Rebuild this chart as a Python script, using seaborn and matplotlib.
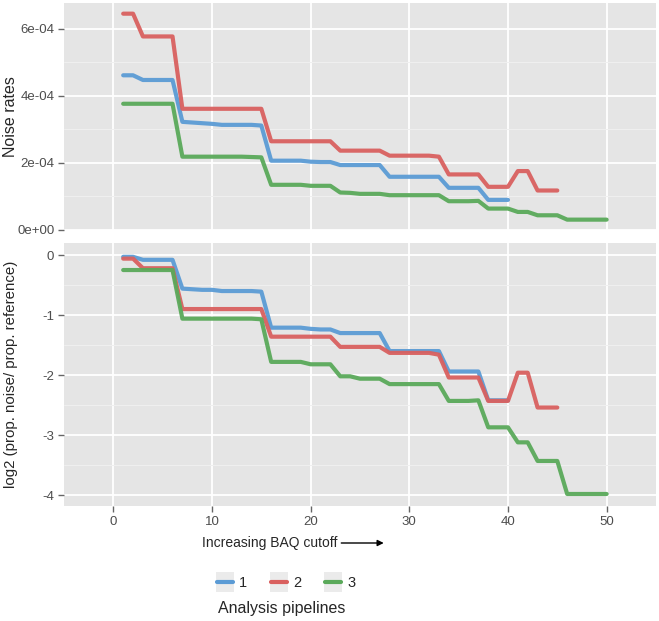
import matplotlib
matplotlib.use('Agg')
import matplotlib.pyplot as plt
import numpy as np
import pandas as pd
import seaborn as sns
from matplotlib.lines import Line2D
from matplotlib.patches import Rectangle, FancyArrowPatch
from matplotlib.ticker import MultipleLocator, FixedLocator

sns.set_style('darkgrid')
plt.rcParams['font.family'] = ['Liberation Sans', 'DejaVu Sans']
plt.rcParams['axes.unicode_minus'] = False

# 数据
cutoff_1 = list(range(1, 41))
cutoff_2 = list(range(1, 46))
cutoff_3 = list(range(1, 51))

noise_1 = [4.61, 4.61, 4.47, 4.47, 4.47, 4.47, 3.22, 3.20, 3.18, 3.16,
           3.13, 3.13, 3.13, 3.13, 3.11, 2.06, 2.06, 2.06, 2.06, 2.03,
           2.02, 2.02, 1.93, 1.93, 1.93, 1.93, 1.93, 1.58, 1.58, 1.58,
           1.58, 1.58, 1.58, 1.25, 1.25, 1.25, 1.25, 0.89, 0.89, 0.89]
noise_2 = [6.45, 6.45, 5.77, 5.77, 5.77, 5.77, 3.61, 3.61, 3.61, 3.61,
           3.61, 3.61, 3.61, 3.61, 3.61, 2.64, 2.64, 2.64, 2.64, 2.64,
           2.64, 2.64, 2.36, 2.36, 2.36, 2.36, 2.36, 2.21, 2.21, 2.21,
           2.21, 2.21, 2.18, 1.65, 1.65, 1.65, 1.65, 1.28, 1.28, 1.28,
           1.75, 1.75, 1.17, 1.17, 1.17]
noise_3 = [3.76, 3.76, 3.76, 3.76, 3.76, 3.76, 2.18, 2.18, 2.18, 2.18,
           2.18, 2.18, 2.18, 2.17, 2.16, 1.34, 1.34, 1.34, 1.34, 1.31,
           1.31, 1.31, 1.11, 1.10, 1.07, 1.07, 1.07, 1.03, 1.03, 1.03,
           1.03, 1.03, 1.03, 0.85, 0.85, 0.85, 0.86, 0.63, 0.63, 0.63,
           0.53, 0.53, 0.43, 0.43, 0.43, 0.30, 0.30, 0.30, 0.30, 0.30]

log2_1 = [-0.03, -0.03, -0.08, -0.08, -0.08, -0.08, -0.56, -0.57, -0.58, -0.58,
          -0.60, -0.60, -0.60, -0.60, -0.61, -1.21, -1.21, -1.21, -1.21, -1.23,
          -1.24, -1.24, -1.30, -1.30, -1.30, -1.30, -1.30, -1.60, -1.60, -1.60,
          -1.60, -1.60, -1.60, -1.94, -1.94, -1.94, -1.94, -2.42, -2.42, -2.42]
log2_2 = [-0.06, -0.06, -0.22, -0.22, -0.22, -0.22, -0.90, -0.90, -0.90, -0.90,
          -0.90, -0.90, -0.90, -0.90, -0.90, -1.36, -1.36, -1.36, -1.36, -1.36,
          -1.36, -1.36, -1.53, -1.53, -1.53, -1.53, -1.53, -1.63, -1.63, -1.63,
          -1.63, -1.63, -1.66, -2.04, -2.04, -2.04, -2.04, -2.43, -2.43, -2.43,
          -1.96, -1.96, -2.54, -2.54, -2.54]
log2_3 = [-0.25, -0.25, -0.25, -0.25, -0.25, -0.25, -1.06, -1.06, -1.06, -1.06,
          -1.06, -1.06, -1.06, -1.06, -1.07, -1.78, -1.78, -1.78, -1.78, -1.82,
          -1.82, -1.82, -2.02, -2.02, -2.06, -2.06, -2.06, -2.15, -2.15, -2.15,
          -2.15, -2.15, -2.15, -2.43, -2.43, -2.43, -2.42, -2.87, -2.87, -2.87,
          -3.12, -3.12, -3.43, -3.43, -3.43, -3.98, -3.98, -3.98, -3.98, -3.98]

pipelines = ['1', '2', '3']
colors = ['#5b9bd5', '#d9605f', '#5aa95a']

frames = []
for p, x, n, l in zip(pipelines, [cutoff_1, cutoff_2, cutoff_3],
                      [noise_1, noise_2, noise_3], [log2_1, log2_2, log2_3]):
    frames.append(pd.DataFrame({'cutoff': x, 'noise': np.array(n) * 1e-4,
                                'log2': l, 'pipeline': p}))
df = pd.concat(frames, ignore_index=True)
palette = dict(zip(pipelines, colors))

W, H = 659, 621
fig = plt.figure(figsize=(W / 100, H / 100), dpi=100)
ax1 = fig.add_axes([0.0971, 0.6296, 0.8983, 0.3651])
ax2 = fig.add_axes([0.0971, 0.1852, 0.8983, 0.4230])

sns.lineplot(data=df, x='cutoff', y='noise', hue='pipeline', palette=palette,
             lw=3, alpha=0.95, legend=False, ax=ax1)
sns.lineplot(data=df, x='cutoff', y='log2', hue='pipeline', palette=palette,
             lw=3, alpha=0.95, legend=False, ax=ax2)

for ax in (ax1, ax2):
    ax.set_facecolor('#e5e5e5')
    ax.set_xlim(-5, 55)
    ax.xaxis.set_major_locator(MultipleLocator(10))
    ax.grid(which='major', color='white', lw=1.3)
    ax.grid(which='minor', axis='y', color='#f0f0f0', lw=0.7)
    for s in ax.spines.values():
        s.set_visible(False)
    ax.tick_params(axis='both', which='major', length=4, width=1, color='#666666',
                   labelsize=9.5, labelcolor='#4d4d4d', pad=3,
                   bottom=True, left=True)
    ax.tick_params(which='minor', length=0)
    ax.set_xlabel('')

ax1.set_ylim(-0.01e-4, 6.76e-4)
ax1.yaxis.set_major_locator(FixedLocator([0, 2e-4, 4e-4, 6e-4]))
ax1.yaxis.set_minor_locator(FixedLocator([1e-4, 3e-4, 5e-4]))
ax1.set_yticklabels(['0e+00', '2e-04', '4e-04', '6e-04'])
ax1.set_xticklabels([])
ax1.tick_params(axis='x', length=0)
ax1.set_ylabel('Noise rates', fontsize=11.5)

ax2.set_ylim(-4.18, 0.195)
ax2.yaxis.set_major_locator(FixedLocator([-4, -3, -2, -1, 0]))
ax2.yaxis.set_minor_locator(FixedLocator([-3.5, -2.5, -1.5, -0.5]))
ax2.set_ylabel('log2 (prop. noise/ prop. reference)', fontsize=10.8)

for ax in (ax1, ax2):
    ax.yaxis.set_label_coords(-0.078, 0.5)

# x 轴标题 + 箭头
xl = fig.text(202 / W, 1 - 543 / H, 'Increasing BAQ cutoff', fontsize=10,
              ha='left', va='center')
fig.canvas.draw()
bb = xl.get_window_extent()
x_end = bb.x1 / W
fig.add_artist(FancyArrowPatch(
    (x_end + 1 / W, 1 - 543 / H), (x_end + 49 / W, 1 - 543 / H),
    transform=fig.transFigure, arrowstyle='-|>', mutation_scale=9,
    color='black', lw=1))

# 图例
handles = [Line2D([0], [0], color=c, lw=3) for c in colors]
leg = fig.legend(handles, pipelines, loc='center', bbox_to_anchor=(286 / W, 1 - 583 / H),
                 ncol=3, frameon=False, fontsize=10.5, handlelength=1.1,
                 columnspacing=1.6, handletextpad=0.45)
fig.text(282 / W, 1 - 608 / H, 'Analysis pipelines', fontsize=11.5, ha='center', va='center')

fig.canvas.draw()
for h in leg.legend_handles:
    e = h.get_window_extent()
    cx = (e.x0 + e.x1) / 2
    cy = (e.y0 + e.y1) / 2
    fig.add_artist(Rectangle(((cx - 9) / W, (cy - 10) / H), 18 / W, 20 / H,
                             transform=fig.transFigure, facecolor='#ebebeb',
                             edgecolor='none', zorder=1))

plt.savefig('out.png', dpi=100)
